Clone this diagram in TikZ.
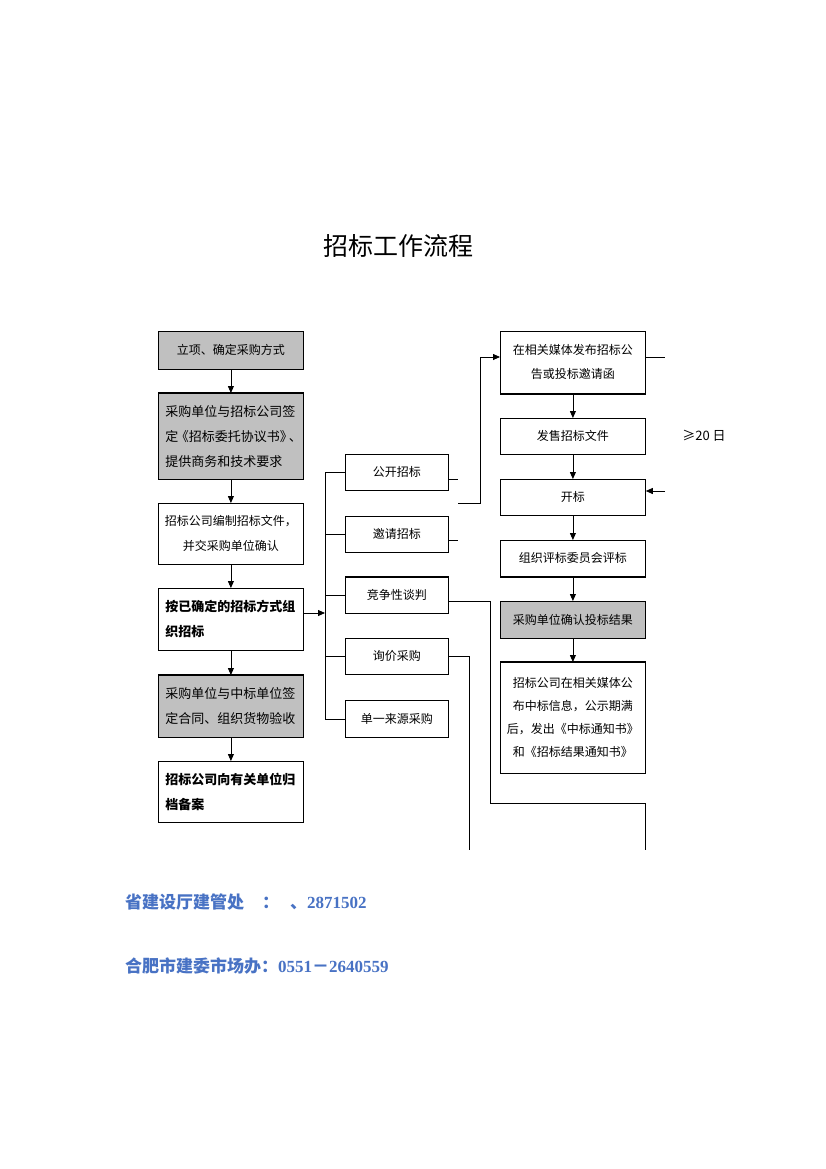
\documentclass[tikz,border=0pt]{standalone}
\usepackage{fontspec}
\setmainfont{Noto Sans CJK SC}
\newfontfamily\numfont{Liberation Serif}
\usetikzlibrary{arrows.meta}
\definecolor{boxgray}{RGB}{192,192,192}
\definecolor{infoblue}{RGB}{72,114,196}
\begin{document}
\begin{tikzpicture}[x=1pt,y=-1pt,
  box/.style={draw,line width=0.8pt,inner sep=0pt,anchor=north west,minimum width=145pt,font=\fontsize{12}{24}\selectfont,align=center},
  gbox/.style={box,fill=boxgray},
  mbox/.style={box,minimum width=103pt,minimum height=36pt},
  arr/.style={line width=0.8pt,-{Triangle[length=7pt,width=6pt]}},
  ln/.style={line width=0.8pt},
  thickedge/.style={line width=2.2pt},
  info/.style={text=infoblue,font=\bfseries\fontsize{17}{20}\selectfont,anchor=base west,inner sep=0pt}]
\useasboundingbox (0,0) rectangle (826,1169);
\fill[white] (0,0) rectangle (826,1169);

% title
\node[font=\fontsize{25}{30}\selectfont] (title) at (398,246) {招标工作流程};

% left column
\node[gbox,minimum height=38pt] (a1) at (158,331) {立项、确定采购方式};
\node[gbox,minimum height=86pt,text width=131pt,align=left,font=\fontsize{13}{25}\selectfont] (a2) at (158,393) {采购单位与招标公司签\\定\kern-.2em《招标委托协议书》\kern-.3em、\\提供商务和技术要求};
\node[box,minimum height=61pt,font=\fontsize{12}{25}\selectfont] (a3) at (158,503) {招标公司编制招标文件，\\并交采购单位确认};
\node[box,minimum height=62pt,text width=131pt,align=left,font=\bfseries\fontsize{13}{25}\selectfont] (a4) at (158,588) {按已确定的招标方式组\\织招标};
\node[gbox,minimum height=62pt,text width=131pt,align=left,font=\fontsize{13}{25}\selectfont] (a5) at (158,675) {采购单位与中标单位签\\定合同、组织货物验收};
\node[box,minimum height=61pt,text width=131pt,align=left,font=\bfseries\fontsize{13}{25}\selectfont] (a6) at (158,761) {招标公司向有关单位归\\档备案};

% middle column
\node[mbox] (m1) at (345,454) {公开招标};
\node[mbox] (m2) at (345,516) {邀请招标};
\node[mbox] (m3) at (345,577) {竞争性谈判};
\node[mbox] (m4) at (345,638) {询价采购};
\node[mbox,minimum height=37pt] (m5) at (345,700) {单一来源采购};

% right column
\node[box,minimum height=62pt] (r1) at (500,331) {在相关媒体发布招标公\\告或投标邀请函};
\node[box,minimum height=36pt] (r2) at (500,418) {发售招标文件};
\node[box,minimum height=36pt] (r3) at (500,479) {开标};
\node[box,minimum height=36pt] (r4) at (500,540) {组织评标委员会评标};
\node[gbox,minimum height=37pt] (r5) at (500,601) {采购单位确认投标结果};
\node[box,minimum height=111pt,font=\fontsize{12}{23}\selectfont] (r6) at (500,662) {招标公司在相关媒体公\\布中标信息，公示期满\\后，发出《中标通知书》\\和《招标结果通知书》};

% thick edges
\draw[thickedge] (a2.north west) -- (a2.north east);
\draw[thickedge] (a5.north west) -- (a5.north east);
\draw[thickedge] (m3.north west) -- (m3.north east);
\draw[thickedge] (r1.south west) -- (r1.south east);
\draw[thickedge] (r4.south west) -- (r4.south east);
\draw[thickedge] (r6.north west) -- (r6.north east);

% vertical arrows
\foreach \u/\v in {a1/a2,a2/a3,a3/a4,a4/a5,a5/a6,r1/r2,r2/r3,r3/r4,r4/r5,r5/r6}
  \draw[arr] (\u) -- (\v);

% bus to methods
\coordinate (bj) at (325,613);
\draw[arr] (a4.east |- bj) -- (bj);
\draw[ln] (m1.west) -- ++(-20,0) |- (m5.west);
\foreach \m in {m2,m3,m4} \draw[ln] (\m.west) -- ++(-20,0);

% right side of methods
\coordinate (p1) at (458,479);
\draw[ln] (m1.east |- p1) -- (p1);
\coordinate (p2) at (458,540);
\draw[ln] (m2.east |- p2) -- (p2);
\coordinate (p3) at (458,503);
\coordinate (ya) at (480,357);
\draw[arr] (p3) -| (ya) -- (r1.west |- ya);
\coordinate (yc) at (665,357);
\draw[ln] (r1.east |- yc) -- (yc);
\coordinate (yb) at (665,491);
\draw[arr] (yb) -- (r3.east |- yb);
\coordinate (q1) at (490,601);
\coordinate (q2) at (645,850);
\draw[ln] (m3.east |- q1) -- (q1) |- (645,803) -- (q2);
\coordinate (q3) at (469,850);
\draw[ln] (m4.east) -| (q3);

% day note
\node[font=\fontsize{13}{15}\selectfont] (ge) at (704,436) {≥20 日};

% contact info
\node[info] (i1) at (125,908) {省建设厅建管处};
\node[info] (i1c) at (262,908) {：};
\node[info] (i1n) at (290,908) {、{\numfont 2871502}};
\node[info] (i2) at (125,972) {合肥市建委市场办：{\numfont 0551}－{\numfont 2640559}};
\end{tikzpicture}
\end{document}
